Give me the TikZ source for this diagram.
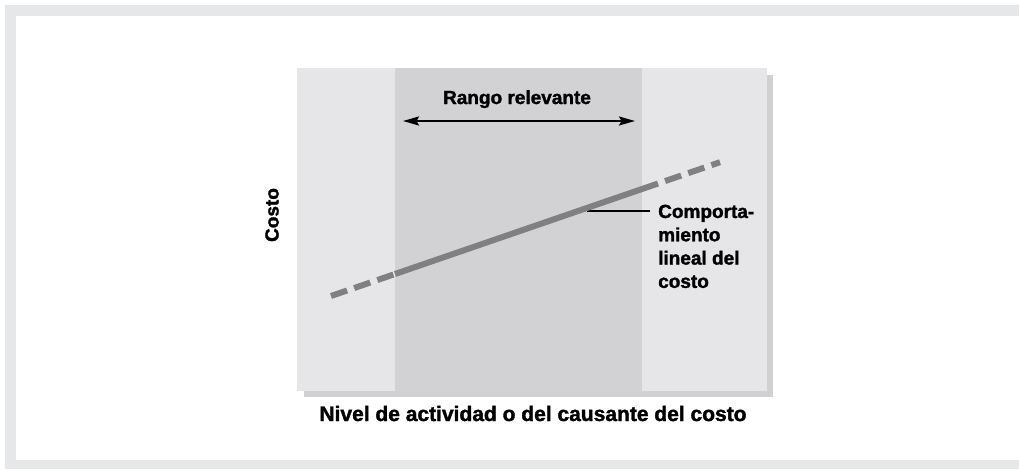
\documentclass[tikz,border=0pt]{standalone}
\usepackage{fontspec}
\setmainfont{Liberation Sans}[BoldFeatures={FakeBold=1.6}]
\usetikzlibrary{arrows.meta}
\definecolor{framegray}{HTML}{E6E7E8}
\definecolor{panelgray}{HTML}{E6E6E8}
\definecolor{bandgray}{HTML}{D2D2D4}
\definecolor{shadowgray}{HTML}{D1D1D3}
\definecolor{linegray}{HTML}{808080}
\tikzset{
  lbl/.style={font=\bfseries\fontsize{19}{23.3}\selectfont, inner sep=0pt, text=black},
  biglbl/.style={font=\bfseries\fontsize{21}{25}\selectfont, inner sep=0pt, text=black},
  rangearrow/.style={line width=2.2pt, {Stealth[length=16pt,width=9pt,inset=2.5pt]}-{Stealth[length=16pt,width=9pt,inset=2.5pt]}},
  costsolid/.style={line width=6pt, draw=linegray},
  costdash/.style={line width=6pt, draw=linegray, dash pattern=on 17pt off 7.5pt},
  leader/.style={line width=2.2pt, draw=black}
}
\begin{document}
\begin{tikzpicture}[x=1pt,y=-1pt]
\useasboundingbox (0,0) rectangle (1019,469);
\fill[white] (0,0) rectangle (1019,469);
% outer frame bands
\fill[framegray] (4.5,4.5) rectangle (1019,15.5);
\fill[framegray] (4.5,4.5) rectangle (15.5,469);
\fill[framegray] (4.5,460) rectangle (1019,469);
% chart panel with shadow
\fill[shadowgray] (304,75) rectangle (773,397);
\fill[panelgray] (297,68) rectangle (767,391);
\fill[bandgray] (395,68) rectangle (642,391);
% relevant range arrow
\coordinate (al) at (403,121);
\coordinate (ar) at (635,121);
\draw[rangearrow] (al) -- (ar);
\node[lbl, anchor=base] (rango) at (517,104) {Rango relevante};
% cost line
\coordinate (A) at (331,296);
\coordinate (B) at (395,274);
\coordinate (C) at (658,183.5);
\coordinate (D) at (720,162.2);
\node[lbl, anchor=north west, align=left] (comp) at (658,204.5) {Comporta-\\miento\\lineal del\\costo};
\coordinate (c1) at (587,211);
\draw[leader, shorten >=8pt] (c1) -- (c1 -| comp.west);
\draw[costdash] (A) -- (B);
\draw[costsolid] (B) -- (C);
\draw[costdash, dash phase=17pt] (C) -- (D);
% axis labels
\node[lbl, rotate=90] (costo) at (272,215) {Costo};
\node[biglbl, anchor=base] (nivel) at (533,421) {Nivel de actividad o del causante del costo};
\end{tikzpicture}
\end{document}
